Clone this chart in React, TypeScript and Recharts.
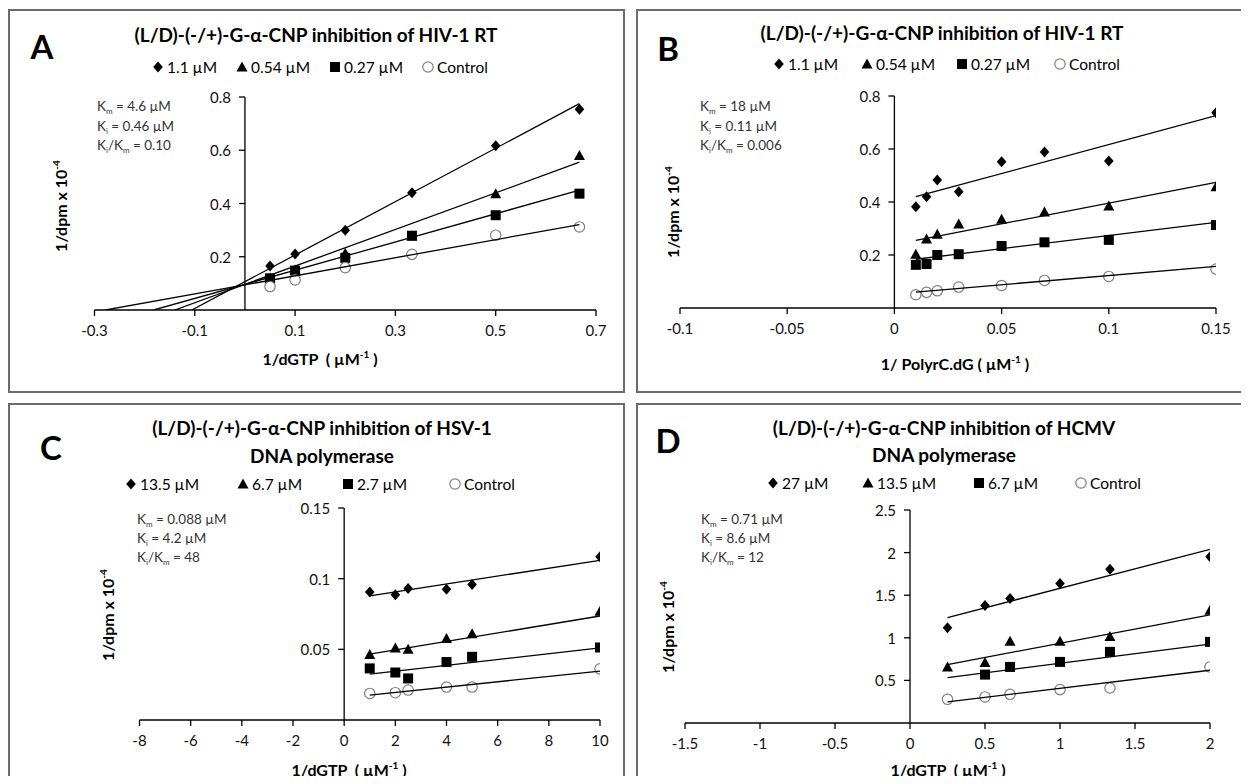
import React from 'react';
import { ReferenceDot, ReferenceLine, Scatter, ScatterChart, XAxis, YAxis } from 'recharts';

// ---- Panel A: HIV-1 RT vs 1/dGTP
const aX = [0.05, 0.1, 0.2, 0.333, 0.5, 0.667];
const aDiamond = [0.165, 0.21, 0.3, 0.44, 0.617, 0.754];
const aTriangle = [0.12, 0.15, 0.213, 0.278, 0.437, 0.58];
const aSquare = [0.119, 0.148, 0.196, 0.279, 0.356, 0.437];
const aCircle = [0.088, 0.113, 0.159, 0.209, 0.281, 0.312];
const aTrendDiamond = [[-0.106, 0], [0.667, 0.775]];
const aTrendTriangle = [[-0.14, 0], [0.667, 0.555]];
const aTrendSquare = [[-0.182, 0], [0.667, 0.45]];
const aTrendCircle = [[-0.278, 0], [0.667, 0.321]];
const aLegend = ['1.1 µM', '0.54 µM', '0.27 µM', 'Control'];

// ---- Panel B: HIV-1 RT vs 1/PolyrC.dG
const bX = [0.01, 0.015, 0.02, 0.03, 0.05, 0.07, 0.1, 0.15];
const bDiamond = [0.382, 0.42, 0.483, 0.439, 0.552, 0.589, 0.555, 0.737];
const bTriangle = [0.203, 0.26, 0.278, 0.317, 0.335, 0.362, 0.385, 0.458];
const bSquare = [0.163, 0.166, 0.2, 0.203, 0.234, 0.248, 0.257, 0.313];
const bCircle = [0.05, 0.059, 0.065, 0.079, 0.085, 0.104, 0.119, 0.147];
const bTrendDiamond = [[0.01, 0.42], [0.15, 0.726]];
const bTrendTriangle = [[0.01, 0.255], [0.15, 0.474]];
const bTrendSquare = [[0.01, 0.184], [0.15, 0.3235]];
const bTrendCircle = [[0.01, 0.06], [0.15, 0.157]];
const bLegend = ['1.1 µM', '0.54 µM', '0.27 µM', 'Control'];

// ---- Panel C: HSV-1 DNA polymerase
const cX = [1, 2, 2.5, 4, 5, 10];
const cDiamond = [0.0906, 0.0887, 0.093, 0.0925, 0.0958, 0.1155];
const cTriangle = [0.0464, 0.051, 0.05, 0.0576, 0.061, 0.077];
const cSquare = [0.0365, 0.0336, 0.0294, 0.041, 0.0447, 0.0513];
const cCircle = [0.0188, 0.0193, 0.0212, 0.0233, 0.0233, 0.0362];
const cTrendDiamond = [[1, 0.0878], [10, 0.113]];
const cTrendTriangle = [[1, 0.0466], [10, 0.0736]];
const cTrendSquare = [[1, 0.0325], [10, 0.051]];
const cTrendCircle = [[1, 0.0176], [10, 0.0346]];
const cLegend = ['13.5 µM', '6.7 µM', '2.7 µM', 'Control'];

// ---- Panel D: HCMV DNA polymerase
const dX = [0.25, 0.5, 0.667, 1, 1.333, 2];
const dDiamond = [1.117, 1.379, 1.462, 1.638, 1.806, 1.951];
const dTriangle = [0.658, 0.709, 0.96, 0.96, 1.015, 1.324];
const dSquare = [null, 0.568, 0.658, 0.717, 0.835, 0.952];
const dCircle = [0.278, 0.306, 0.337, 0.392, 0.411, 0.658];
const dTrendDiamond = [[0.25, 1.238], [2, 2.038]];
const dTrendTriangle = [[0.25, 0.686], [2, 1.27]];
const dTrendSquare = [[0.25, 0.533], [2, 0.925]];
const dTrendCircle = [[0.25, 0.247], [2, 0.619]];
const dLegend = ['27 µM', '13.5 µM', '6.7 µM', 'Control'];

const FONT = 'Lato, "Open Sans", sans-serif';
const KINDS = ['diamond', 'triangle', 'square', 'circle'];

type Pt = { x: number; y: number };
const toPts = (xs: number[], ys: (number | null)[]): Pt[] =>
  xs.map((x, i) => ({ x, y: ys[i] as number })).filter((p) => p.y != null);
const pairPts = (pairs: number[][]): Pt[] => pairs.map(([x, y]) => ({ x, y }));

const Marker = ({ kind, cx, cy }: { kind: string; cx: number; cy: number }) => {
  if (kind === 'diamond')
    return <polygon points={`${cx},${cy - 5.5} ${cx + 4.8},${cy} ${cx},${cy + 5.5} ${cx - 4.8},${cy}`} fill="#000" />;
  if (kind === 'triangle')
    return <polygon points={`${cx},${cy - 5.5} ${cx + 5.5},${cy + 4.5} ${cx - 5.5},${cy + 4.5}`} fill="#000" />;
  if (kind === 'square') return <rect x={cx - 5} y={cy - 5} width={10} height={10} fill="#000" />;
  return <circle cx={cx} cy={cy} r={5.2} fill="#fff" stroke="#7f7f7f" strokeWidth={1.2} />;
};

const fmt = (v: number) => String(v);

type PanelProps = {
  box: { left: number; top: number; width: number; height: number };
  plot: { x0: number; x1: number; y0: number; y1: number };
  xDomain: number[];
  xTicks: number[];
  yDomain: number[];
  yTicks: number[];
  series: Pt[][];
  trends: Pt[][];
  letter: string;
  letterPos: number[];
  title: string[];
  titleX: number;
  titleY: number[];
  legend: string[];
  legendX: number[];
  legendY: number;
  notes: string[];
  notesX: number;
  notesY: number[];
  xLabel: string;
  xLabelPos: number[];
  yLabelPos: number[];
};

const abs = (x: number, y: number): React.CSSProperties => ({
  position: 'absolute',
  left: x,
  top: y,
  transform: 'translate(-50%, -50%)',
  whiteSpace: 'pre',
});

const Panel = (p: PanelProps) => {
  const margin = {
    left: p.plot.x0 - p.box.left,
    right: p.box.left + p.box.width - p.plot.x1,
    top: p.plot.y0 - p.box.top,
    bottom: p.box.top + p.box.height - p.plot.y1 - 30,
  };
  return (
    <>
      <div
        style={{
          position: 'absolute',
          left: p.box.left,
          top: p.box.top,
          width: p.box.width,
          height: p.box.height,
          border: '2px solid #6b6b6b',
          boxSizing: 'border-box',
        }}
      />
      <div style={{ position: 'absolute', left: p.box.left, top: p.box.top }}>
        <ScatterChart width={p.box.width} height={p.box.height} margin={margin}>
          <XAxis
            type="number"
            dataKey="x"
            domain={p.xDomain}
            ticks={p.xTicks}
            interval={0}
            allowDataOverflow
            height={30}
            tickSize={6}
            tickMargin={9}
            tickFormatter={fmt}
            tick={{ fontSize: 15, fill: '#111', fontFamily: FONT }}
            tickLine={{ stroke: '#000', strokeWidth: 1.3 }}
            axisLine={{ stroke: '#000', strokeWidth: 1.3 }}
          />
          <YAxis type="number" dataKey="y" domain={p.yDomain} hide allowDataOverflow />
          <ReferenceLine x={0} stroke="#000" strokeWidth={1.3} />
          {p.yTicks.map((v) => (
            <ReferenceDot
              key={v}
              x={0}
              y={v}
              r={0}
              shape={(s: any) => (
                <g>
                  <line x1={s.cx - 6} y1={s.cy} x2={s.cx} y2={s.cy} stroke="#000" strokeWidth={1.3} />
                  <text
                    x={s.cx - 14}
                    y={s.cy}
                    textAnchor="end"
                    dominantBaseline="central"
                    fontSize={15}
                    fill="#111"
                    fontFamily={FONT}
                  >
                    {fmt(v)}
                  </text>
                </g>
              )}
            />
          ))}
          {p.series.map((pts, i) => (
            <Scatter
              key={'s' + i}
              data={pts}
              isAnimationActive={false}
              shape={(s: any) => <Marker kind={KINDS[i]} cx={s.cx} cy={s.cy} />}
            />
          ))}
          {p.trends.map((pts, i) => (
            <Scatter
              key={'t' + i}
              data={pts}
              isAnimationActive={false}
              line={{ stroke: '#000', strokeWidth: 1.3 }}
              shape={() => <g />}
              legendType="none"
            />
          ))}
        </ScatterChart>
      </div>
      <div style={{ ...abs(p.letterPos[0], p.letterPos[1]), fontSize: 33, fontWeight: 700 }}>{p.letter}</div>
      {p.title.map((t, i) => (
        <div key={t} style={{ ...abs(p.titleX, p.titleY[i]), fontSize: 19, fontWeight: 700 }}>
          {t}
        </div>
      ))}
      {p.legend.map((t, i) => (
        <div
          key={t}
          style={{
            position: 'absolute',
            left: p.legendX[i],
            top: p.legendY,
            transform: 'translateY(-50%)',
            display: 'flex',
            alignItems: 'center',
            fontSize: 15.5,
            whiteSpace: 'nowrap',
          }}
        >
          <svg width={12} height={12} style={{ marginRight: 3 }}>
            <Marker kind={KINDS[i]} cx={6} cy={6} />
          </svg>
          {t}
        </div>
      ))}
      {p.notes.map((t, i) => {
        const [k, rest] = t.split('|');
        return (
          <div
            key={t}
            style={{
              position: 'absolute',
              left: p.notesX,
              top: p.notesY[i],
              transform: 'translateY(-50%)',
              fontSize: 13.5,
              color: '#333',
              whiteSpace: 'nowrap',
            }}
          >
            {k.split(',').map((sub, j) => (
              <span key={j}>
                {j > 0 ? '/' : ''}K<sub style={{ fontSize: 8 }}>{sub}</sub>
              </span>
            ))}
            {rest}
          </div>
        );
      })}
      <div style={{ ...abs(p.xLabelPos[0], p.xLabelPos[1]), fontSize: 16, fontWeight: 700 }}>
        {p.xLabel} ( µM<sup style={{ fontSize: 10 }}>-1</sup> )
      </div>
      <div
        style={{
          ...abs(p.yLabelPos[0], p.yLabelPos[1]),
          transform: 'translate(-50%, -50%) rotate(-90deg)',
          fontSize: 16,
          fontWeight: 700,
        }}
      >
        1/dpm x 10<sup style={{ fontSize: 10 }}>-4</sup>
      </div>
    </>
  );
};

const mk = (xs: number[], a: any[], b: any[], c: any[], d: any[]) => [a, b, c, d].map((ys) => toPts(xs, ys));

export default function App() {
  return (
    <div
      style={{
        margin: -8,
        width: 1249,
        height: 784,
        position: 'relative',
        overflow: 'hidden',
        background: '#fff',
        fontFamily: FONT,
        color: '#000',
      }}
    >
      <Panel
        box={{ left: 8, top: 9, width: 617, height: 384 }}
        plot={{ x0: 94.5, x1: 596, y0: 97, y1: 310 }}
        xDomain={[-0.3, 0.7]}
        xTicks={[-0.3, -0.1, 0.1, 0.3, 0.5, 0.7]}
        yDomain={[0, 0.8]}
        yTicks={[0.2, 0.4, 0.6, 0.8]}
        series={mk(aX, aDiamond, aTriangle, aSquare, aCircle)}
        trends={[aTrendDiamond, aTrendTriangle, aTrendSquare, aTrendCircle].map(pairPts)}
        letter="A"
        letterPos={[42, 46]}
        title={['(L/D)-(-/+)-G-α-CNP inhibition of HIV-1 RT']}
        titleX={316}
        titleY={[34]}
        legend={aLegend}
        legendX={[152, 236, 329, 422]}
        legendY={67}
        notes={['m| = 4.6 µM', 'i| = 0.46 µM', 'i,m| = 0.10']}
        notesX={97}
        notesY={[107, 127, 146]}
        xLabel="1/dGTP "
        xLabelPos={[320, 358]}
        yLabelPos={[60, 206]}
      />
      <Panel
        box={{ left: 636, top: 9, width: 620, height: 384 }}
        plot={{ x0: 680, x1: 1216, y0: 96, y1: 308 }}
        xDomain={[-0.1, 0.15]}
        xTicks={[-0.1, -0.05, 0, 0.05, 0.1, 0.15]}
        yDomain={[0, 0.8]}
        yTicks={[0.2, 0.4, 0.6, 0.8]}
        series={mk(bX, bDiamond, bTriangle, bSquare, bCircle)}
        trends={[bTrendDiamond, bTrendTriangle, bTrendSquare, bTrendCircle].map(pairPts)}
        letter="B"
        letterPos={[668, 48]}
        title={['(L/D)-(-/+)-G-α-CNP inhibition of HIV-1 RT']}
        titleX={942}
        titleY={[32]}
        legend={bLegend}
        legendX={[773, 861, 956, 1054]}
        legendY={64}
        notes={['m| = 18 µM', 'i| = 0.11 µM', 'i,m| = 0.006']}
        notesX={700}
        notesY={[107, 127, 146]}
        xLabel="1/ PolyrC.dG"
        xLabelPos={[955, 363]}
        yLabelPos={[672, 212]}
      />
      <Panel
        box={{ left: 8, top: 403, width: 617, height: 390 }}
        plot={{ x0: 139.5, x1: 600, y0: 508, y1: 720 }}
        xDomain={[-8, 10]}
        xTicks={[-8, -6, -4, -2, 0, 2, 4, 6, 8, 10]}
        yDomain={[0, 0.15]}
        yTicks={[0.05, 0.1, 0.15]}
        series={mk(cX, cDiamond, cTriangle, cSquare, cCircle)}
        trends={[cTrendDiamond, cTrendTriangle, cTrendSquare, cTrendCircle].map(pairPts)}
        letter="C"
        letterPos={[51, 447]}
        title={['(L/D)-(-/+)-G-α-CNP inhibition of HSV-1', 'DNA polymerase']}
        titleX={322}
        titleY={[427, 455]}
        legend={cLegend}
        legendX={[125, 237, 342, 449]}
        legendY={484}
        notes={['m| = 0.088 µM', 'i| = 4.2 µM', 'i,m| = 48']}
        notesX={137}
        notesY={[520, 539, 558]}
        xLabel="1/dGTP "
        xLabelPos={[349, 769]}
        yLabelPos={[107, 615]}
      />
      <Panel
        box={{ left: 636, top: 403, width: 620, height: 390 }}
        plot={{ x0: 685, x1: 1210, y0: 510, y1: 723 }}
        xDomain={[-1.5, 2]}
        xTicks={[-1.5, -1, -0.5, 0, 0.5, 1, 1.5, 2]}
        yDomain={[0, 2.5]}
        yTicks={[0.5, 1, 1.5, 2, 2.5]}
        series={mk(dX, dDiamond, dTriangle, dSquare, dCircle)}
        trends={[dTrendDiamond, dTrendTriangle, dTrendSquare, dTrendCircle].map(pairPts)}
        letter="D"
        letterPos={[668, 440]}
        title={['(L/D)-(-/+)-G-α-CNP inhibition of HCMV', 'DNA polymerase']}
        titleX={944}
        titleY={[427, 454]}
        legend={dLegend}
        legendX={[767, 862, 973, 1075]}
        legendY={483}
        notes={['m| = 0.71 µM', 'i| = 8.6 µM', 'i,m| = 12']}
        notesX={701}
        notesY={[520, 539, 558]}
        xLabel="1/dGTP "
        xLabelPos={[948, 769]}
        yLabelPos={[667, 627]}
      />
    </div>
  );
}
